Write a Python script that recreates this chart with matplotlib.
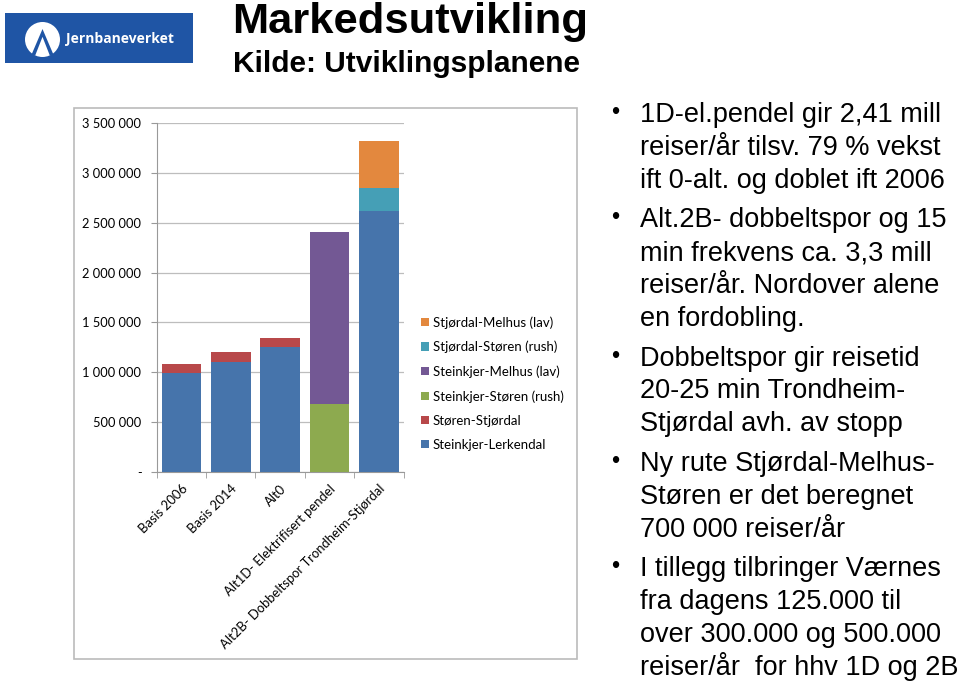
import numpy as np
import matplotlib
matplotlib.use("Agg")
import matplotlib.pyplot as plt
from matplotlib.patches import Rectangle, Circle, Polygon

# data
categories = ['Basis 2006', 'Basis 2014', 'Alt0', 'Alt1D- Elektrifisert pendel',
              'Alt2B- Dobbeltspor Trondheim-Stjørdal']
series_names = ['Steinkjer-Lerkendal', 'Støren-Stjørdal', 'Steinkjer-Støren (rush)',
                'Steinkjer-Melhus (lav)', 'Stjørdal-Støren (rush)', 'Stjørdal-Melhus (lav)']
steinkjer_lerkendal = [990000, 1105000, 1253000, 0, 2620000]
storen_stjordal = [90000, 95000, 95000, 0, 0]
steinkjer_storen_rush = [0, 0, 0, 677000, 0]
steinkjer_melhus_lav = [0, 0, 0, 1733000, 0]
stjordal_storen_rush = [0, 0, 0, 0, 230000]
stjordal_melhus_lav = [0, 0, 0, 0, 470000]
series = [steinkjer_lerkendal, storen_stjordal, steinkjer_storen_rush,
          steinkjer_melhus_lav, stjordal_storen_rush, stjordal_melhus_lav]
colors = ['#4674AB', '#B8484A', '#8DAA4F', '#735894', '#459FB6', '#E3883E']

yticks = [0, 500000, 1000000, 1500000, 2000000, 2500000, 3000000, 3500000]
ytick_labels = ['-', '500 000', '1 000 000', '1 500 000', '2 000 000',
                '2 500 000', '3 000 000', '3 500 000']

title = 'Markedsutvikling'
subtitle = 'Kilde: Utviklingsplanene'
bullets = [
    ['1D-el.pendel gir 2,41 mill', 'reiser/år tilsv. 79 % vekst', 'ift 0-alt. og doblet ift 2006'],
    ['Alt.2B- dobbeltspor og 15', 'min frekvens ca. 3,3 mill', 'reiser/år. Nordover alene', 'en fordobling.'],
    ['Dobbeltspor gir reisetid', '20-25 min Trondheim-', 'Stjørdal avh. av stopp'],
    ['Ny rute Stjørdal-Melhus-', 'Støren er det beregnet', '700 000 reiser/år'],
    ['I tillegg tilbringer Værnes', 'fra dagens 125.000 til', 'over 300.000 og 500.000', 'reiser/år  for hhv 1D og 2B'],
]

W, H = 960, 682
def fx(x):
    return x / W
def fy(y):
    return 1 - y / H

fig = plt.figure(figsize=(9.6, 6.82), dpi=100)

# logo
fig.patches.append(Rectangle((fx(5), fy(63.3)), fx(188), 50 / H, transform=fig.transFigure,
                             facecolor='#1F55A5', edgecolor='none', zorder=0))
ax_logo = fig.add_axes([fx(25), fy(57), fx(35), 35 / H], zorder=3)
ax_logo.set_xlim(-1, 1)
ax_logo.set_ylim(-1, 1)
ax_logo.set_aspect('equal')
ax_logo.axis('off')
ax_logo.add_patch(Circle((0, 0), 1, facecolor='white', edgecolor='none'))
ax_logo.add_patch(Polygon([[-0.62, -0.85], [0, 0.6], [0.62, -0.85], [0.42, -0.92],
                           [0, 0.15], [-0.42, -0.92]], closed=True,
                          facecolor='#1F55A5', edgecolor='none'))
fig.text(fx(66), fy(43.5), 'Jernbaneverket', color='white', fontsize=10,
         fontweight='bold', family='Open Sans', va='baseline', ha='left')

# titles
fig.text(fx(232), fy(33.5), title, fontsize=31.3, fontweight='bold',
         family='Liberation Sans', va='baseline', ha='left')
fig.text(fx(233), fy(71.5), subtitle, fontsize=21.5, fontweight='bold',
         family='Liberation Sans', va='baseline', ha='left')

# chart frame
fig.patches.append(Rectangle((fx(74), fy(659)), fx(503), (659 - 108) / H,
                             transform=fig.transFigure, facecolor='none',
                             edgecolor='#BBBBBB', linewidth=1.2))

ax = fig.add_axes([fx(156.7), fy(471.7), fx(247), (471.7 - 123.3) / H])
x = np.arange(len(categories))
bottom = np.zeros(len(categories))
bars = []
for vals, name, c in zip(series, series_names, colors):
    b = ax.bar(x, vals, 0.8, bottom=bottom, color=c, label=name, zorder=3)
    bars.append(b)
    bottom += np.array(vals)

ax.set_xlim(-0.5, len(categories) - 0.5)
ax.set_ylim(0, 3500000)
ax.set_yticks(yticks)
ax.set_yticklabels(ytick_labels, family='Lato', fontsize=9.3)
ax.yaxis.grid(True, color='#BDBDBD', linewidth=0.9, zorder=0)
ax.tick_params(axis='y', length=4, color='#999999', pad=7)
ax.set_xticks(x)
ax.set_xticklabels(categories, rotation=45, ha='right', rotation_mode='anchor',
                   family='Lato', fontsize=9.4)
ax.tick_params(axis='x', which='major', length=0, pad=8)
ax.set_xticks(np.arange(-0.5, len(categories)), minor=True)
ax.tick_params(axis='x', which='minor', length=4, color='#999999')
for s in ['top', 'right']:
    ax.spines[s].set_visible(False)
ax.spines['left'].set_color('#999999')
ax.spines['bottom'].set_color('#999999')

fig.legend(bars[::-1], series_names[::-1], loc='upper left',
           bbox_to_anchor=(fx(421), fy(316)), frameon=False,
           prop={'family': 'Lato', 'size': 9.5}, handlelength=0.6, handleheight=0.6,
           handletextpad=0.3, labelspacing=0.92, borderaxespad=0, borderpad=0)

# bullet text
line_h = 32.8
gap = 7
y = 122
for lines in bullets:
    fig.text(fx(615), fy(y - 9), '\u2022', fontsize=17, family='Liberation Sans',
             va='center', ha='center')
    for ln in lines:
        fig.text(fx(640), fy(y), ln, fontsize=19.5, family='Liberation Sans',
                 va='baseline', ha='left')
        y += line_h
    y += gap

fig.savefig('out.png', dpi=100)
